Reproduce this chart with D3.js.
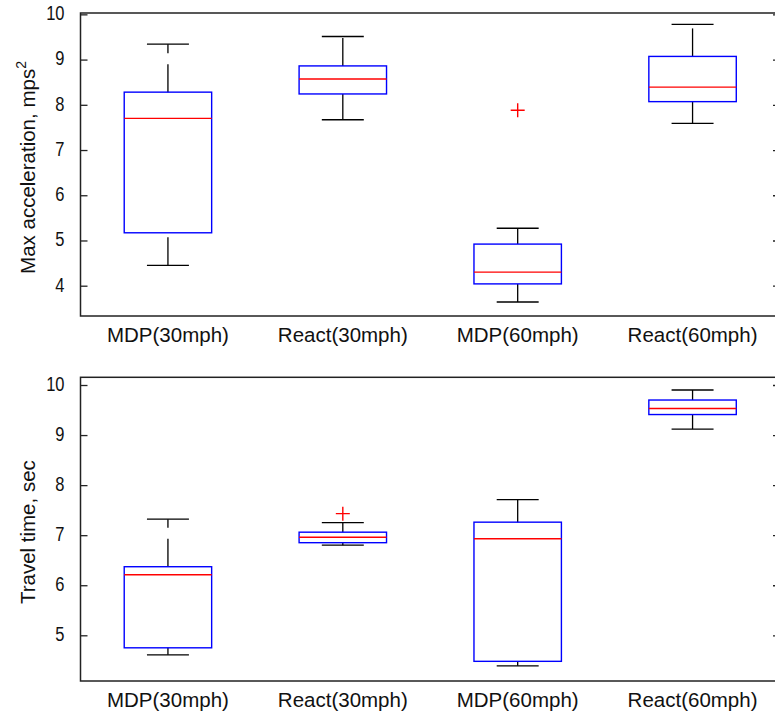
<!DOCTYPE html>
<html>
<head>
<meta charset="utf-8">
<script src="https://cdn.jsdelivr.net/npm/d3@7"></script>
<style>
  html, body { margin: 0; padding: 0; background: #fff; }
  svg { display: block; }
  text { font-family: "Liberation Sans", Arial, sans-serif; fill: #111; }
</style>
</head>
<body>
<svg id="chart" width="775" height="715"></svg>
<script>
// ---------- data ----------
const categories = ["MDP(30mph)", "React(30mph)", "MDP(60mph)", "React(60mph)"];

const accelLowerWhisker = [4.45, 7.67, 3.64, 7.59];
const accelQ1           = [5.17, 8.24, 4.04, 8.07];
const accelMedian       = [7.70, 8.57, 4.30, 8.39];
const accelQ3           = [8.28, 8.86, 4.92, 9.07];
const accelUpperWhisker = [9.34, 9.51, 5.27, 9.78];
const accelOutliers     = [[], [], [7.88], []];
const accelTicks        = [4, 5, 6, 7, 8, 9, 10];
const accelDomain       = [3.33, 10.03];

const travelLowerWhisker = [4.61, 6.80, 4.39, 9.12];
const travelQ1           = [4.75, 6.85, 4.48, 9.41];
const travelMedian       = [6.21, 6.96, 6.93, 9.53];
const travelQ3           = [6.37, 7.06, 7.26, 9.70];
const travelUpperWhisker = [7.32, 7.25, 7.71, 9.90];
const travelOutliers     = [[], [7.43], [], []];
const travelTicks        = [5, 6, 7, 8, 9, 10];
const travelDomain       = [4.087, 10.154];

// ---------- drawing ----------
const svg = d3.select("#chart");
const left = 80.5, right = 780;

function panel(cfg) {
  const g = svg.append("g");
  const x = d3.scalePoint().domain(categories).range([left, right]).padding(0.5);
  const y = d3.scaleLinear().domain(cfg.domain).range([cfg.bottom, cfg.top]);
  const step = x.step();
  const boxW = step * 0.5;
  const capW = step * 0.24;

  const rows = categories.map((c, i) => ({
    c, lo: cfg.lo[i], q1: cfg.q1[i], med: cfg.med[i], q3: cfg.q3[i], hi: cfg.hi[i], out: cfg.out[i]
  }));

  // whiskers (dashed, drawn from lower value to upper value)
  g.selectAll(".wu").data(rows).join("line")
    .attr("x1", d => x(d.c)).attr("x2", d => x(d.c))
    .attr("y1", d => y(d.q3)).attr("y2", d => y(d.hi))
    .attr("stroke", "#000").attr("stroke-width", 1.3).attr("stroke-dasharray", "28,11");
  g.selectAll(".wl").data(rows).join("line")
    .attr("x1", d => x(d.c)).attr("x2", d => x(d.c))
    .attr("y1", d => y(d.lo)).attr("y2", d => y(d.q1))
    .attr("stroke", "#000").attr("stroke-width", 1.3).attr("stroke-dasharray", "28,11");
  // caps
  ["hi", "lo"].forEach(k => {
    g.selectAll(".cap" + k).data(rows).join("line")
      .attr("x1", d => x(d.c) - capW / 2).attr("x2", d => x(d.c) + capW / 2)
      .attr("y1", d => y(d[k])).attr("y2", d => y(d[k]))
      .attr("stroke", "#000").attr("stroke-width", 1.3);
  });
  // boxes
  g.selectAll(".box").data(rows).join("rect")
    .attr("x", d => x(d.c) - boxW / 2).attr("width", boxW)
    .attr("y", d => y(d.q3)).attr("height", d => y(d.q1) - y(d.q3))
    .attr("fill", "none").attr("stroke", "#0000ff").attr("stroke-width", 1.4);
  // medians
  g.selectAll(".med").data(rows).join("line")
    .attr("x1", d => x(d.c) - boxW / 2).attr("x2", d => x(d.c) + boxW / 2)
    .attr("y1", d => y(d.med)).attr("y2", d => y(d.med))
    .attr("stroke", "#ff0000").attr("stroke-width", 1.4);
  // outliers
  const outs = rows.flatMap(d => d.out.map(v => ({ c: d.c, v })));
  g.selectAll(".out").data(outs).join("path")
    .attr("d", d => {
      const cx = x(d.c), cy = y(d.v), r = 7;
      return `M${cx - r},${cy}H${cx + r}M${cx},${cy - r}V${cy + r}`;
    })
    .attr("stroke", "#ff0000").attr("stroke-width", 1.4).attr("fill", "none");

  // axes frame
  g.append("rect")
    .attr("x", left).attr("y", cfg.top).attr("width", right - left).attr("height", cfg.bottom - cfg.top)
    .attr("fill", "none").attr("stroke", "#222").attr("stroke-width", 1.5);

  // left axis ticks (inward) with labels
  const yAxisL = d3.axisLeft(y).tickValues(cfg.ticks).tickSize(-7).tickPadding(16).tickFormat(d3.format("d"));
  const ga = g.append("g").attr("transform", `translate(${left},0)`).call(yAxisL);
  ga.select(".domain").remove();
  ga.selectAll(".tick line").attr("stroke", "#222").attr("stroke-width", 1.3);
  ga.selectAll(".tick text")
    .style("font-size", "16.5px").attr("fill", "#111")
    .attr("dy", "0.27em")
    .attr("transform", "scale(1,1.2)");
  // right axis ticks (inward, no labels)
  const yAxisR = d3.axisRight(y).tickValues(cfg.ticks).tickSize(-7).tickFormat("");
  const gr = g.append("g").attr("transform", `translate(${right},0)`).call(yAxisR);
  gr.select(".domain").remove();
  gr.selectAll(".tick line").attr("stroke", "#222").attr("stroke-width", 1.3);

  // category labels
  g.selectAll(".xl").data(categories).join("text")
    .attr("x", d => x(d)).attr("y", cfg.bottom + 26)
    .attr("text-anchor", "middle").style("font-size", "20.5px")
    .text(d => d);

  // y label
  const yl = g.append("text")
    .attr("transform", `translate(35,${(cfg.top + cfg.bottom) / 2 + 3}) rotate(-90)`)
    .attr("text-anchor", "middle").style("font-size", "20.5px");
  yl.append("tspan").text(cfg.label);
  if (cfg.sup) {
    yl.append("tspan").attr("dy", -9).style("font-size", "14px").text(cfg.sup);
  }
}

panel({
  top: 13, bottom: 316, domain: accelDomain, ticks: accelTicks,
  lo: accelLowerWhisker, q1: accelQ1, med: accelMedian, q3: accelQ3, hi: accelUpperWhisker, out: accelOutliers,
  label: "Max acceleration, mps", sup: "2"
});
panel({
  top: 377.3, bottom: 681, domain: travelDomain, ticks: travelTicks,
  lo: travelLowerWhisker, q1: travelQ1, med: travelMedian, q3: travelQ3, hi: travelUpperWhisker, out: travelOutliers,
  label: "Travel time, sec", sup: null
});
</script>
</body>
</html>
